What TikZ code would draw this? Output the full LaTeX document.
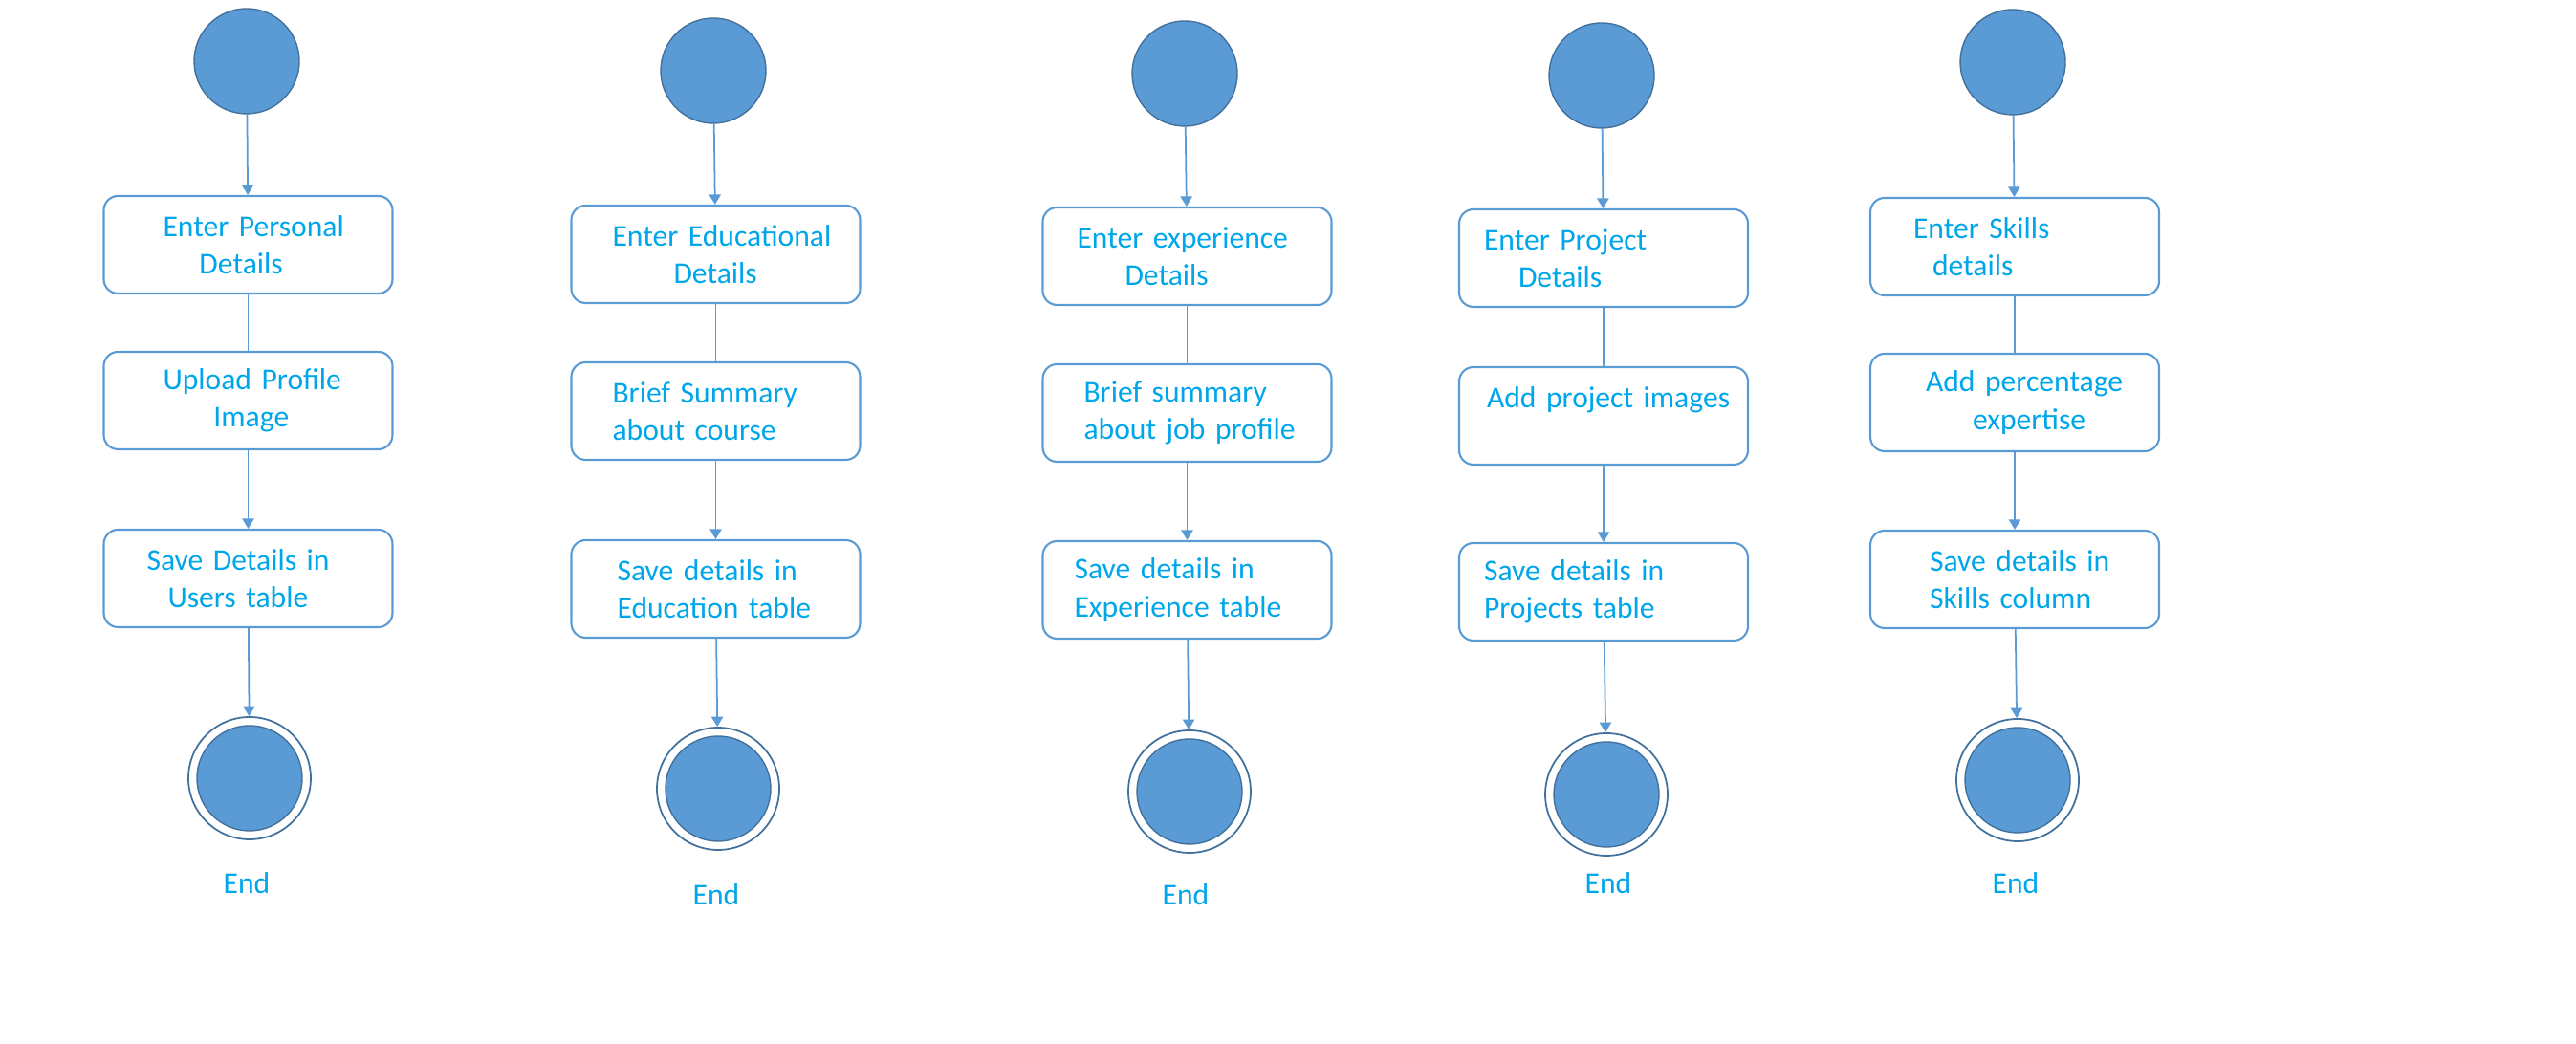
\documentclass[tikz,border=0pt]{standalone}
\usepackage{fontspec}
\setmainfont{Carlito}
\usetikzlibrary{arrows.meta}

\definecolor{dotblue}{HTML}{5B9BD5}
\definecolor{dotedge}{HTML}{41719C}
\definecolor{txtblue}{HTML}{00A6EA}

\tikzset{
  startdot/.style={circle, fill=dotblue, draw=dotedge, line width=0.4pt, minimum size=1.1cm, inner sep=0pt},
  endring/.style={circle, fill=white, draw=dotedge, line width=0.5pt, minimum size=1.28cm, inner sep=0pt},
  stepbox/.style={draw=dotblue, line width=0.6pt, rounded corners=0.15cm, text width=3.02cm, inner xsep=0pt,
                  minimum height=1.02cm, align=left, text=txtblue, font=\fontsize{9}{11.2}\selectfont},
  endtext/.style={text=txtblue, font=\fontsize{9}{11.2}\selectfont},
  flow/.style={draw=dotblue, line width=0.5pt},
  flowto/.style={flow, -{Triangle[length=3pt,width=3.5pt]}}
}
\newcommand{\ind}[1]{\hspace*{#1cm}}

\begin{document}
\begin{tikzpicture}

  % 页面大小
  \useasboundingbox (0,0) rectangle (26.94,10.92);

  % --- 第一列：个人信息 ---
  \node[startdot] (s1) at (2.58,10.28) {};
  \node[stepbox] (a1) at (2.595,8.36) {\ind{0.62}Enter Personal\\\ind{1.00}Details};
  \node[stepbox] (a2) at (2.595,6.73) {\ind{0.62}Upload Profile\\\ind{1.15}Image};
  \node[stepbox] (a3) at (2.595,4.87) {\ind{0.45}Save Details in\\\ind{0.67}Users table};
  \node[endring] (e1) at (2.61,2.78) {};
  \filldraw[fill=dotblue, draw=dotedge, line width=0.4pt] (e1) circle (0.55);
  \node[endtext] (t1) at (2.58,1.68) {End};
  \draw[flowto] (s1) -- (a1);
  \draw[flow] (a1) -- (a2);
  \draw[flowto] (a2) -- (a3);
  \draw[flowto] (a3) -- (e1);

  % --- 第二列：教育经历 ---
  \node[startdot] (s2) at (7.46,10.18) {};
  \node[stepbox] (b1) at (7.485,8.26) {\ind{0.43}Enter Educational\\\ind{1.07}Details};
  \node[stepbox] (b2) at (7.485,6.62) {\ind{0.43}Brief Summary\\\ind{0.43}about course};
  \node[stepbox] (b3) at (7.485,4.76) {\ind{0.48}Save details in\\\ind{0.48}Education table};
  \node[endring] (e2) at (7.51,2.67) {};
  \filldraw[fill=dotblue, draw=dotedge, line width=0.4pt] (e2) circle (0.55);
  \node[endtext] (t2) at (7.49,1.56) {End};
  \draw[flowto] (s2) -- (b1);
  \draw[flow] (b1) -- (b2);
  \draw[flowto] (b2) -- (b3);
  \draw[flowto] (b3) -- (e2);

  % --- 第三列：工作经历 ---
  \node[startdot] (s3) at (12.39,10.15) {};
  \node[stepbox] (c1) at (12.415,8.24) {\ind{0.36}Enter experience\\\ind{0.86}Details};
  \node[stepbox] (c2) at (12.415,6.60) {\ind{0.43}Brief summary\\\ind{0.43}about job profile};
  \node[stepbox] (c3) at (12.415,4.75) {\ind{0.33}Save details in\\\ind{0.33}Experience table};
  \node[endring] (e3) at (12.44,2.64) {};
  \filldraw[fill=dotblue, draw=dotedge, line width=0.4pt] (e3) circle (0.55);
  \node[endtext] (t3) at (12.40,1.56) {End};
  \draw[flowto] (s3) -- (c1);
  \draw[flow] (c1) -- (c2);
  \draw[flowto] (c2) -- (c3);
  \draw[flowto] (c3) -- (e3);

  % --- 第四列：项目 ---
  \node[startdot] (s4) at (16.75,10.13) {};
  \node[stepbox] (d1) at (16.77,8.22) {\ind{0.26}Enter Project\\\ind{0.62}Details};
  \node[stepbox] (d2) at (16.77,6.57) {\ind{0.29}Add project images\\[-3.4pt]\strut};
  \node[stepbox] (d3) at (16.77,4.73) {\ind{0.26}Save details in\\\ind{0.26}Projects table};
  \node[endring] (e4) at (16.80,2.61) {};
  \filldraw[fill=dotblue, draw=dotedge, line width=0.4pt] (e4) circle (0.55);
  \node[endtext] (t4) at (16.82,1.68) {End};
  \draw[flowto] (s4) -- (d1);
  \draw[flow] (d1) -- (d2);
  \draw[flowto] (d2) -- (d3);
  \draw[flowto] (d3) -- (e4);

  % --- 第五列：技能 ---
  \node[startdot] (s5) at (21.05,10.27) {};
  \node[stepbox] (f1) at (21.07,8.34) {\ind{0.45}Enter Skills\\\ind{0.65}details};
  \node[stepbox] (f2) at (21.07,6.71) {\ind{0.58}Add percentage\\\ind{1.07}expertise};
  \node[stepbox] (f3) at (21.07,4.86) {\ind{0.62}Save details in\\\ind{0.62}Skills column};
  \node[endring] (e5) at (21.10,2.76) {};
  \filldraw[fill=dotblue, draw=dotedge, line width=0.4pt] (e5) circle (0.55);
  \node[endtext] (t5) at (21.08,1.68) {End};
  \draw[flowto] (s5) -- (f1);
  \draw[flow] (f1) -- (f2);
  \draw[flowto] (f2) -- (f3);
  \draw[flowto] (f3) -- (e5);

\end{tikzpicture}
\end{document}
